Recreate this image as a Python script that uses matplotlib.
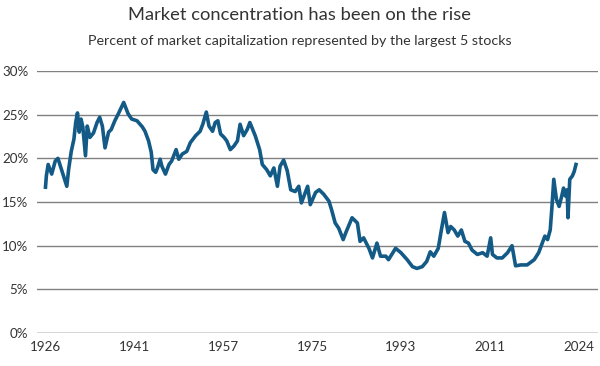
import matplotlib
matplotlib.use("Agg")
import matplotlib.pyplot as plt
import numpy as np

# position along the axis (one unit = one tick label step) and share of market cap (%)
pos = [0.00, 0.01, 0.03, 0.07, 0.11, 0.14, 0.19, 0.24, 0.26, 0.29,
       0.32, 0.34, 0.36, 0.38, 0.40, 0.42, 0.45, 0.47, 0.50, 0.54,
       0.58, 0.61, 0.64, 0.67, 0.71, 0.74, 0.78, 0.82, 0.88, 0.93,
       0.97, 1.03, 1.09, 1.12, 1.16, 1.19, 1.21, 1.24, 1.26, 1.29,
       1.31, 1.35, 1.39, 1.42, 1.47, 1.50, 1.54, 1.59, 1.63, 1.69,
       1.74, 1.77, 1.81, 1.84, 1.88, 1.91, 1.94, 1.97, 2.01, 2.04,
       2.08, 2.12, 2.16, 2.19, 2.23, 2.27, 2.30, 2.36, 2.41, 2.44,
       2.49, 2.53, 2.57, 2.61, 2.64, 2.68, 2.72, 2.76, 2.81, 2.85,
       2.88, 2.91, 2.95, 2.98, 3.04, 3.08, 3.13, 3.19, 3.22, 3.26,
       3.30, 3.35, 3.38, 3.45, 3.51, 3.54, 3.58, 3.64, 3.68, 3.73,
       3.77, 3.83, 3.86, 3.94, 4.00, 4.07, 4.13, 4.18, 4.24, 4.29,
       4.33, 4.37, 4.42, 4.45, 4.48, 4.49, 4.53, 4.56, 4.60, 4.64,
       4.68, 4.72, 4.76, 4.80, 4.86, 4.92, 4.97, 5.01, 5.03, 5.08,
       5.14, 5.20, 5.25, 5.29, 5.35, 5.42, 5.50, 5.55, 5.59, 5.62,
       5.65, 5.68, 5.70, 5.72, 5.75, 5.78, 5.81, 5.83, 5.85, 5.87,
       5.88, 5.90, 5.93, 5.95, 5.97]
share = [16.7, 18.0, 19.3, 18.2, 19.7, 20.0, 18.4, 16.8, 18.7, 20.8,
         22.2, 24.1, 25.2, 23.0, 24.5, 23.6, 20.3, 23.7, 22.4, 22.9,
         24.1, 24.7, 23.7, 21.2, 23.0, 23.3, 24.3, 25.1, 26.4, 25.1,
         24.5, 24.3, 23.6, 23.1, 22.0, 20.7, 18.7, 18.4, 18.9, 19.9,
         19.1, 18.2, 19.3, 19.7, 21.0, 19.9, 20.5, 20.8, 21.8, 22.6,
         23.1, 23.9, 25.3, 23.7, 23.1, 24.1, 24.3, 22.8, 22.4, 22.0,
         21.0, 21.4, 22.0, 23.9, 22.6, 23.3, 24.1, 22.6, 21.0, 19.3,
         18.7, 18.0, 18.9, 16.8, 19.1, 19.8, 18.6, 16.4, 16.2, 16.8,
         14.9, 15.7, 16.8, 14.7, 16.1, 16.4, 15.9, 15.1, 14.1, 12.6,
         12.0, 10.7, 11.5, 13.2, 12.6, 10.5, 10.9, 9.7, 8.6, 10.3,
         8.8, 8.8, 8.4, 9.7, 9.2, 8.4, 7.6, 7.4, 7.6, 8.2,
         9.3, 8.8, 9.7, 11.5, 13.2, 13.8, 11.5, 12.2, 11.8, 11.1,
         11.8, 10.5, 10.3, 9.5, 9.0, 9.2, 8.8, 10.9, 9.0, 8.6,
         8.6, 9.2, 10.0, 7.7, 7.8, 7.8, 8.4, 9.2, 10.3, 11.1,
         10.7, 11.8, 14.5, 17.6, 15.3, 14.5, 15.7, 16.6, 15.7, 16.4,
         13.2, 17.6, 18.0, 18.5, 19.3]

year_labels = ["1926", "1941", "1957", "1975", "1993", "2011", "2024"]
y_ticks = [0, 5, 10, 15, 20, 25, 30]

plt.rcParams['font.family'] = ['Lato', 'DejaVu Sans']

fig = plt.figure(figsize=(6, 3.66), dpi=100)
ax = fig.add_axes([0.061, 0.09, 0.936, 0.716])

ax.plot(pos, share, color='#135a86', lw=2.6, solid_joinstyle='round', zorder=3)

ax.set_ylim(0, 30)
ax.set_xlim(-0.1, 6.22)
ax.set_yticks(y_ticks)
ax.set_yticklabels([f"{v}%" for v in y_ticks])
ax.set_xticks(range(len(year_labels)))
ax.set_xticklabels(year_labels)

for v in y_ticks[1:]:
    ax.axhline(v, color='#808080', lw=1.0, zorder=1)
ax.axhline(0, color='#333333', lw=1.0, zorder=2)

for s in ax.spines.values():
    s.set_visible(False)
ax.tick_params(axis='both', length=0, labelsize=9.6, colors='#333333')
ax.tick_params(axis='y', pad=6)
ax.tick_params(axis='x', pad=6)

fig.text(0.5, 0.945, "Market concentration has been on the rise",
         ha='center', va='baseline', fontsize=13.2, color='#333333')
fig.text(0.5, 0.878, "Percent of market capitalization represented by the largest 5 stocks",
         ha='center', va='baseline', fontsize=10.3, color='#333333')

fig.savefig("out.png", dpi=100)
